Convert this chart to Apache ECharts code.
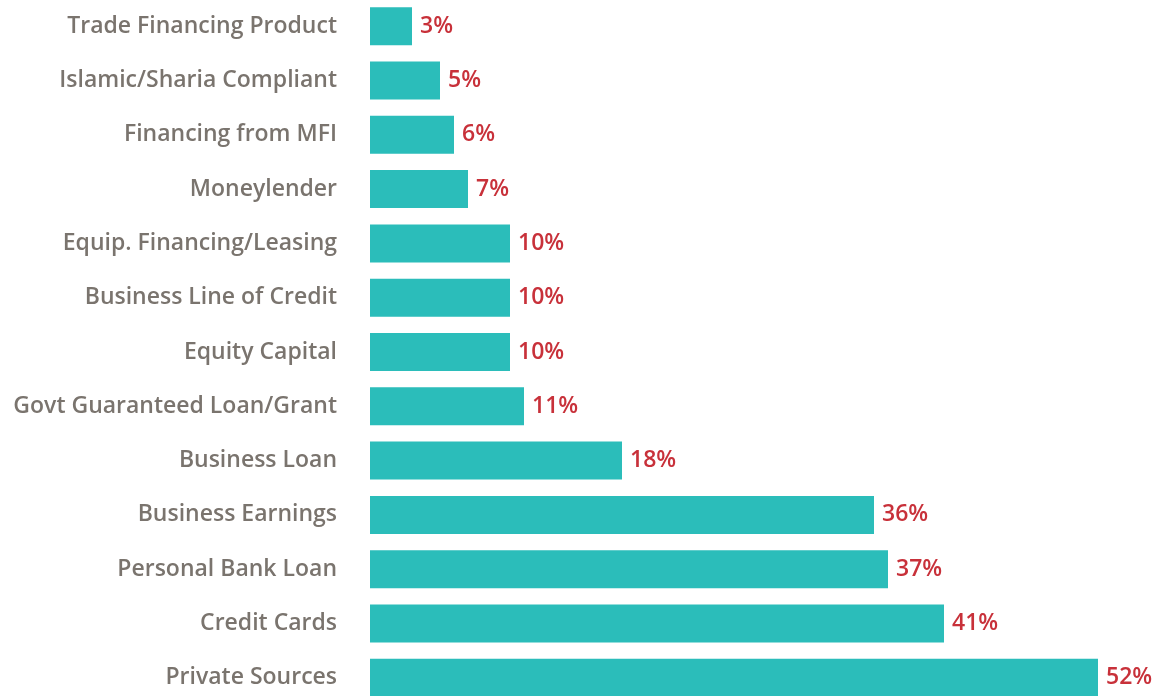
<!DOCTYPE html>
<html>
<head>
<meta charset="utf-8">
<script src="https://cdn.jsdelivr.net/npm/echarts@6/dist/echarts.min.js"></script>
<style>
  html, body { margin: 0; padding: 0; background: #fff; }
  #chart { width: 1159px; height: 696px; }
</style>
</head>
<body>
<div id="chart"></div>
<script>
const categories = [
  "Trade Financing Product",
  "Islamic/Sharia Compliant",
  "Financing from MFI",
  "Moneylender",
  "Equip. Financing/Leasing",
  "Business Line of Credit",
  "Equity Capital",
  "Govt Guaranteed Loan/Grant",
  "Business Loan",
  "Business Earnings",
  "Personal Bank Loan",
  "Credit Cards",
  "Private Sources"
];
const shares = [3, 5, 6, 7, 10, 10, 10, 11, 18, 36, 37, 41, 52];

const chart = echarts.init(document.getElementById("chart"));

const option = {
  animation: false,
  grid: {
    left: 370,
    top: -1,
    width: 840,
    height: 706,
    outerBoundsMode: "none",
    containLabel: false
  },
  xAxis: {
    type: "value",
    min: 0,
    max: 60,
    show: false
  },
  yAxis: {
    type: "category",
    data: categories,
    inverse: true,
    axisLine: { show: false },
    axisTick: { show: false },
    axisLabel: {
      margin: 33,
      color: "#7a746e",
      fontFamily: "Open Sans",
      fontWeight: 600,
      fontSize: 23
    }
  },
  series: [
    {
      type: "bar",
      data: shares,
      barWidth: 38,
      itemStyle: { color: "#2bbdba" },
      label: {
        show: true,
        position: "right",
        distance: 8,
        formatter: "{c}%",
        color: "#c8313a",
        fontFamily: "Open Sans",
        fontWeight: 600,
        fontSize: 23
      }
    }
  ]
};

chart.setOption(option);
</script>
</body>
</html>
